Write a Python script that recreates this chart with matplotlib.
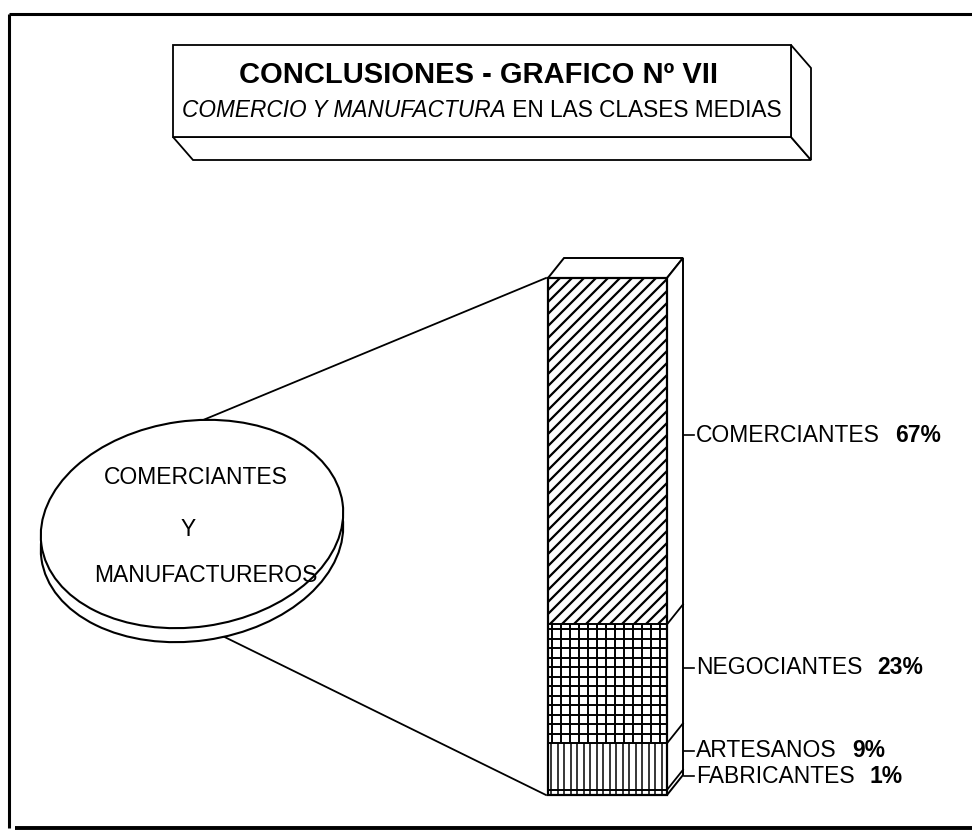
import numpy as np
import matplotlib.pyplot as plt
from matplotlib.patches import Rectangle, Polygon, Ellipse
from matplotlib.collections import LineCollection

plt.rcParams['font.family'] = ['Liberation Sans', 'DejaVu Sans']

# DATOS
categories = ['COMERCIANTES', 'NEGOCIANTES', 'ARTESANOS', 'FABRICANTES']
shares = [67, 23, 9, 1]
title = 'CONCLUSIONES - GRAFICO Nº VII'
subtitle_italic = 'COMERCIO Y MANUFACTURA'
subtitle_rest = ' EN LAS CLASES MEDIAS'
pie_lines = ['COMERCIANTES', 'Y', 'MANUFACTUREROS']

fig = plt.figure(figsize=(9.72, 8.32), dpi=100)
ax = fig.add_axes([0, 0, 1, 1])
ax.set_xlim(0, 972)
ax.set_ylim(832, 0)
ax.axis('off')

# MARCO EXTERIOR
ax.plot([9, 972], [14, 14], color='k', lw=2.2, solid_capstyle='butt')
ax.plot([9, 9], [14, 828], color='k', lw=2.2, solid_capstyle='butt')
ax.plot([15, 972], [828, 828], color='k', lw=2.8, solid_capstyle='butt')

# CAJA DEL TITULO (3D)
bx0, by0, bx1, by1 = 173, 45, 791, 137
ddx, ddy = 20, 23
ax.add_patch(Polygon([(bx0, by1), (bx1, by1), (bx1 + ddx, by1 + ddy), (bx0 + ddx, by1 + ddy)],
                     closed=True, fc='white', ec='k', lw=1.3))
ax.add_patch(Polygon([(bx1, by0), (bx1 + ddx, by0 + ddy), (bx1 + ddx, by1 + ddy), (bx1, by1)],
                     closed=True, fc='white', ec='k', lw=1.3))
ax.add_patch(Rectangle((bx0, by0), bx1 - bx0, by1 - by0, fc='white', ec='k', lw=1.3))

ax.text(478, 75, title, ha='center', va='center',
        fontsize=21, fontweight='bold')

t1 = ax.text(0, 117, subtitle_italic, ha='left', va='baseline',
             fontsize=16.3, style='italic')
t2 = ax.annotate(subtitle_rest, xy=(1, 0), xycoords=t1, ha='left', va='bottom',
                 fontsize=16.3)
fig.canvas.draw()
r = fig.canvas.get_renderer()
w = t1.get_window_extent(r).width + t2.get_window_extent(r).width
t1.set_x(482 - w / 2)

# BARRA APILADA (3D)
x0, x1, top, bottom = 548, 667, 278, 795
dx, dy = 16, -20
fr = np.concatenate([[0], np.cumsum(shares)]) / sum(shares)
ys = top + fr * (bottom - top)


def hatch(y0, y1, kind):
    segs = []
    if kind == 'diag':
        h = y1 - y0
        for c in np.arange(x0 - h, x1 + 12, 12):
            segs.append([(c, y1), (c + h, y0)])
        lw = 1.6
    elif kind == 'grid':
        for c in np.arange(x0 + 4, x1, 9):
            segs.append([(c, y0), (c, y1)])
        for c in np.arange(y0 + 5, y1, 9.5):
            segs.append([(x0, c), (x1, c)])
        lw = 1.4
    else:
        for c in np.arange(x0 + 3, x1, 6.5):
            segs.append([(c, y0), (c, y1)])
        lw = 1.1
    face = Rectangle((x0, y0), x1 - x0, y1 - y0, fc='white', ec='none')
    ax.add_patch(face)
    lc = LineCollection(segs, colors='k', linewidths=lw)
    ax.add_collection(lc)
    lc.set_clip_path(face)


kinds = ['diag', 'grid', 'vert', 'vert']
for i in range(len(shares)):
    hatch(ys[i], ys[i + 1], kinds[i])

# caras superior y lateral
ax.add_patch(Polygon([(x0, top), (x1, top), (x1 + dx, top + dy), (x0 + dx, top + dy)],
                     closed=True, fc='white', ec='k', lw=1.4))
ax.add_patch(Polygon([(x1, top), (x1 + dx, top + dy), (x1 + dx, bottom + dy), (x1, bottom)],
                     closed=True, fc='white', ec='k', lw=1.4))
for y in ys[1:-1]:
    ax.plot([x1, x1 + dx], [y, y + dy], color='k', lw=1.3)
    ax.plot([x0, x1], [y, y], color='k', lw=1.4)
ax.add_patch(Rectangle((x0, top), x1 - x0, bottom - top, fc='none', ec='k', lw=1.6))

# ETIQUETAS
mids = (ys[:-1] + ys[1:]) / 2 + dy + 4
for i in range(1, len(mids)):
    mids[i] = max(mids[i], mids[i - 1] + 24)
ax_x = x1 + dx + 1
for name, pct, y in zip(categories, shares, mids):
    ax.plot([ax_x, ax_x + 10], [y, y], color='k', lw=1.2)
    t = ax.text(ax_x + 12, y, name, ha='left', va='center', fontsize=16.5)
    ax.annotate(f'{pct}%', xy=(1, 0), xycoords=t, xytext=(11, 0),
                textcoords='offset points', ha='left', va='bottom',
                fontsize=16.5, fontweight='bold')

# DISCO (ELIPSE)
cx, cy = 192, 524
ew, eh, ang, thick = 304, 206, -8, 14
ax.plot([150, 546], [442, 278], color='k', lw=1.3, zorder=1)
ax.plot([190, 546], [620, 795], color='k', lw=1.3, zorder=1)
ax.add_patch(Ellipse((cx, cy + thick), ew, eh, angle=ang, fc='white', ec='k', lw=1.5, zorder=2))
ax.add_patch(Ellipse((cx, cy), ew, eh, angle=ang, fc='white', ec='k', lw=1.5, zorder=3))
for txt, xx, yy in zip(pie_lines, [196, 188, 206], [478, 529, 576]):
    ax.text(xx, yy, txt, ha='center', va='center', fontsize=16.5, zorder=4)

plt.savefig('out.png', dpi=100)
